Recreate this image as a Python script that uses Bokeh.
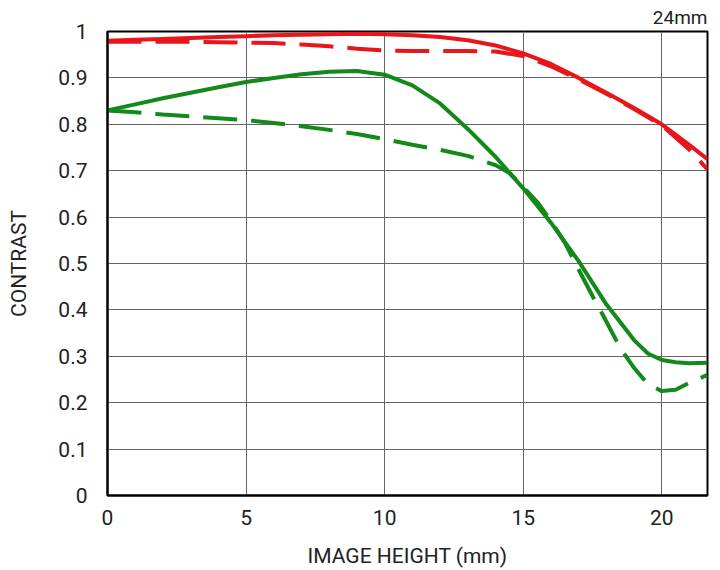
from bokeh.plotting import figure
from bokeh.embed import file_html
from bokeh.resources import INLINE
from bokeh.models import Range1d, FixedTicker

# ---- data ----
red_solid_x = [0, 1, 2, 3, 4, 5, 6, 7, 8, 9, 10, 11, 12, 13, 14, 15, 16, 17, 18, 19, 20, 21, 21.65]
red_solid_y = [0.980, 0.982, 0.984, 0.986, 0.988, 0.990, 0.992, 0.993, 0.994, 0.995, 0.994, 0.992,
               0.988, 0.981, 0.970, 0.953, 0.930, 0.900, 0.868, 0.835, 0.800, 0.755, 0.725]

red_dash_x = [0, 1, 2, 3, 4, 5, 6, 7, 8, 9, 10, 11, 12, 13, 14, 15, 16, 17, 18, 19, 20, 21, 21.65]
red_dash_y = [0.978, 0.978, 0.978, 0.978, 0.977, 0.976, 0.975, 0.972, 0.968, 0.963, 0.959, 0.958,
              0.958, 0.958, 0.957, 0.947, 0.925, 0.897, 0.866, 0.833, 0.798, 0.745, 0.703]

green_solid_x = [0, 1, 2, 3, 4, 5, 6, 7, 8, 9, 10, 11, 12, 13, 14, 15, 16, 17, 18, 19, 19.5, 20,
                 20.5, 21, 21.65]
green_solid_y = [0.830, 0.843, 0.856, 0.868, 0.880, 0.891, 0.900, 0.908, 0.913, 0.915, 0.907, 0.884,
                 0.845, 0.790, 0.730, 0.662, 0.588, 0.505, 0.412, 0.335, 0.306, 0.292, 0.287,
                 0.285, 0.286]

green_dash_x = [0, 1, 2, 3, 4, 5, 6, 7, 8, 9, 10, 11, 12, 13, 14, 14.5, 15, 15.5, 16, 16.5, 17,
                17.5, 18, 18.5, 19, 19.5, 20, 20.5, 21, 21.65]
green_dash_y = [0.830, 0.826, 0.821, 0.817, 0.813, 0.809, 0.803, 0.796, 0.788, 0.779, 0.768, 0.756,
                0.745, 0.732, 0.712, 0.695, 0.665, 0.633, 0.592, 0.545, 0.487, 0.430, 0.375,
                0.318, 0.275, 0.240, 0.225, 0.228, 0.243, 0.260]

x_ticks = [0, 5, 10, 15, 20]
y_ticks = [0, 0.1, 0.2, 0.3, 0.4, 0.5, 0.6, 0.7, 0.8, 0.9, 1.0]
y_tick_labels = {0: "0", 0.1: "0.1", 0.2: "0.2", 0.3: "0.3", 0.4: "0.4", 0.5: "0.5",
                 0.6: "0.6", 0.7: "0.7", 0.8: "0.8", 0.9: "0.9", 1.0: "1"}
corner_text = "24mm"

FONT = "Roboto"
RED = "#e8161b"
GREEN = "#13891a"

p = figure(width=712, height=570, output_backend="svg", toolbar_location=None,
           x_range=Range1d(0, 21.65), y_range=Range1d(0, 1),
           frame_width=600, frame_height=464,
           min_border_left=107, min_border_right=5, min_border_top=30, min_border_bottom=76,
           title=corner_text)

p.title.align = "right"
p.title.text_font = FONT
p.title.text_font_size = "19px"
p.title.text_font_style = "normal"
p.title.text_color = "#222222"
p.title.standoff = 6
p.title.offset = 0

p.outline_line_color = "black"
p.outline_line_width = 2
p.background_fill_color = "white"
p.border_fill_color = "white"

for ax in (p.xaxis[0], p.yaxis[0]):
    ax.axis_line_color = "black"
    ax.axis_line_width = 2
    ax.major_tick_out = 0
    ax.major_tick_in = 0
    ax.minor_tick_out = 0
    ax.minor_tick_in = 0
    ax.major_label_text_font = FONT
    ax.major_label_text_font_size = "21px"
    ax.major_label_text_color = "#222222"
    ax.axis_label_text_font = FONT
    ax.axis_label_text_font_size = "21px"
    ax.axis_label_text_font_style = "normal"
    ax.axis_label_text_color = "#222222"

p.xaxis.ticker = FixedTicker(ticks=x_ticks)
p.yaxis.ticker = FixedTicker(ticks=y_ticks)
p.yaxis.major_label_overrides = y_tick_labels
p.xaxis.axis_label = "IMAGE HEIGHT (mm)"
p.yaxis.axis_label = "CONTRAST"
p.xaxis.major_label_standoff = 14
p.yaxis.major_label_standoff = 20
p.xaxis.axis_label_standoff = 16
p.yaxis.axis_label_standoff = 24

p.xgrid.ticker = FixedTicker(ticks=x_ticks)
p.ygrid.ticker = FixedTicker(ticks=y_ticks)
for g in (p.xgrid[0], p.ygrid[0]):
    g.grid_line_color = "#666666"
    g.grid_line_width = 1
    g.grid_line_alpha = 1.0

p.line(red_solid_x, red_solid_y, line_color=RED, line_width=4)
p.line(red_dash_x, red_dash_y, line_color=RED, line_width=4, line_dash="34 14")
p.line(green_solid_x, green_solid_y, line_color=GREEN, line_width=4)
p.line(green_dash_x, green_dash_y, line_color=GREEN, line_width=4, line_dash="34 14")

open("out.html", "w").write(file_html(p, INLINE))
